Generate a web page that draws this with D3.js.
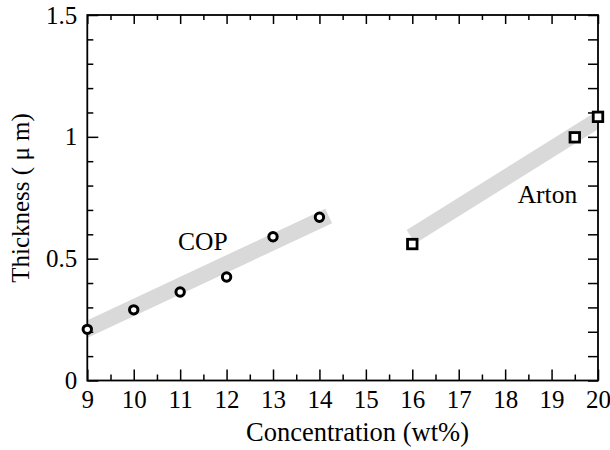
<!DOCTYPE html>
<html>
<head>
<meta charset="utf-8">
<script src="https://cdn.jsdelivr.net/npm/d3@7"></script>
<style>
  html, body { margin: 0; padding: 0; background: #fff; }
  svg text { font-family: "Liberation Serif", "Times New Roman", serif; fill: #000; }
</style>
</head>
<body>
<svg id="chart" width="610" height="450"></svg>
<script>
// ---- data ----
const copX = [9, 10, 11, 12, 13, 14];
const copY = [0.21, 0.29, 0.363, 0.425, 0.59, 0.67];
const artonX = [16, 19.5, 20];
const artonY = [0.56, 0.998, 1.082];
const copBandX = [8.8, 14.2];
const copBandY = [0.193, 0.675];
const artonBandX = [15.97, 20.3];
const artonBandY = [0.59, 1.105];
const xTickValues = [9, 10, 11, 12, 13, 14, 15, 16, 17, 18, 19, 20];
const xMinorValues = [9.5, 10.5, 11.5, 12.5, 13.5, 14.5, 15.5, 16.5, 17.5, 18.5, 19.5];
const yTickValues = [0, 0.5, 1, 1.5];
const yTickLabels = ["0", "0.5", "1", "1.5"];
const yMinorValues = [0.1, 0.2, 0.3, 0.4, 0.6, 0.7, 0.8, 0.9, 1.1, 1.2, 1.3, 1.4];
const labels = [{ text: "COP", x: 11.49, y: 0.535 }, { text: "Arton", x: 18.91, y: 0.727 }];
const xTitle = "Concentration (wt%)";
const yTitle = "Thickness ( \u03bc m)";

// ---- layout ----
const L = 87.3, R = 598, T = 15, B = 380.5;
const svg = d3.select("#chart");
const x = d3.scaleLinear().domain([9, 20]).range([L, R]);
const y = d3.scaleLinear().domain([0, 1.5]).range([B, T]);

svg.append("defs").append("clipPath").attr("id", "plotclip")
  .append("rect").attr("x", L).attr("y", T).attr("width", R - L).attr("height", B - T);

// bands
const line = d3.line().x(d => x(d[0])).y(d => y(d[1]));
const bands = [d3.zip(copBandX, copBandY), d3.zip(artonBandX, artonBandY)];
svg.append("g").attr("clip-path", "url(#plotclip)")
  .selectAll("path").data(bands).join("path")
  .attr("d", line)
  .attr("fill", "none")
  .attr("stroke", "#d9d9d9")
  .attr("stroke-width", 16)
  .attr("stroke-linecap", "butt");

// axes
function styleAxis(g) {
  g.select(".domain").remove();
  g.selectAll("line").attr("stroke", "#000").attr("stroke-width", 1.5);
  g.selectAll("text").attr("font-size", 25).attr("font-family", "Liberation Serif, serif").attr("fill", "#000");
}
// bottom
svg.append("g").attr("transform", `translate(0,${B})`)
  .call(d3.axisBottom(x).tickValues(xTickValues).tickSize(-11).tickPadding(10).tickFormat(d3.format("d")))
  .call(styleAxis);
svg.append("g").attr("transform", `translate(0,${B})`)
  .call(d3.axisBottom(x).tickValues(xMinorValues).tickSize(-6).tickFormat(""))
  .call(styleAxis);
// top
svg.append("g").attr("transform", `translate(0,${T})`)
  .call(d3.axisTop(x).tickValues(xTickValues).tickSize(-9).tickFormat(""))
  .call(styleAxis);
svg.append("g").attr("transform", `translate(0,${T})`)
  .call(d3.axisTop(x).tickValues(xMinorValues).tickSize(-5).tickFormat(""))
  .call(styleAxis);
// left
svg.append("g").attr("transform", `translate(${L},0)`)
  .call(d3.axisLeft(y).tickValues(yTickValues).tickSize(-11).tickPadding(10)
    .tickFormat((d, i) => yTickLabels[i]))
  .call(styleAxis);
svg.append("g").attr("transform", `translate(${L},0)`)
  .call(d3.axisLeft(y).tickValues(yMinorValues).tickSize(-6).tickFormat(""))
  .call(styleAxis);
// right
svg.append("g").attr("transform", `translate(${R},0)`)
  .call(d3.axisRight(y).tickValues(yTickValues.concat(yMinorValues)).tickSize(-10).tickFormat(""))
  .call(styleAxis);

// frame
svg.append("rect").attr("x", L).attr("y", T).attr("width", R - L).attr("height", B - T)
  .attr("fill", "none").attr("stroke", "#000").attr("stroke-width", 1.8);

// markers
svg.append("g").selectAll("circle").data(d3.zip(copX, copY)).join("circle")
  .attr("cx", d => x(d[0])).attr("cy", d => y(d[1])).attr("r", 4.2)
  .attr("fill", "#fff").attr("stroke", "#000").attr("stroke-width", 3);
const sq = 9.5;
svg.append("g").selectAll("rect").data(d3.zip(artonX, artonY)).join("rect")
  .attr("x", d => x(d[0]) - sq / 2).attr("y", d => y(d[1]) - sq / 2)
  .attr("width", sq).attr("height", sq)
  .attr("fill", "#fff").attr("stroke", "#000").attr("stroke-width", 2.8);

// labels
svg.append("g").selectAll("text").data(labels).join("text")
  .attr("x", d => x(d.x)).attr("y", d => y(d.y))
  .attr("text-anchor", "middle").attr("font-size", 25.5).text(d => d.text);

// titles
svg.append("text").attr("x", 357.5).attr("y", 441).attr("text-anchor", "middle")
  .attr("font-size", 26.5).text(xTitle);
svg.append("text").attr("transform", "translate(28.5,198) rotate(-90)")
  .attr("text-anchor", "middle").attr("font-size", 25).text(yTitle);
</script>
</body>
</html>
